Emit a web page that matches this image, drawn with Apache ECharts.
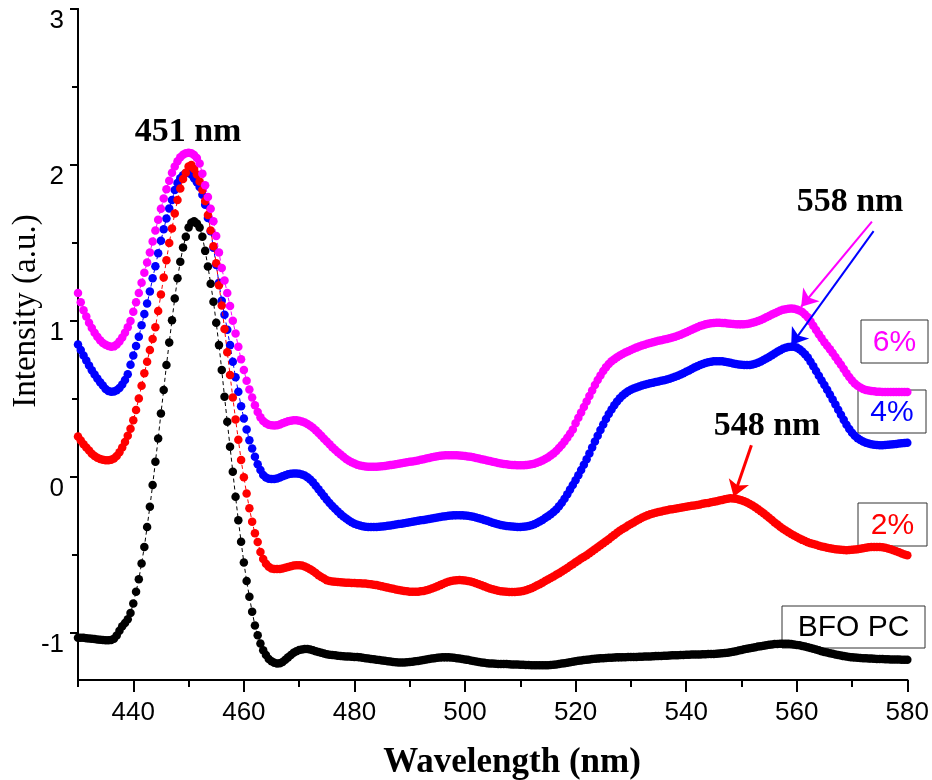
<!DOCTYPE html>
<html>
<head>
<meta charset="utf-8">
<title>PL spectra</title>
<script src="https://cdn.jsdelivr.net/npm/echarts@6/dist/echarts.min.js"></script>
<style>
  html, body { margin: 0; padding: 0; background: #fff; }
  #chart { width: 932px; height: 780px; }
</style>
</head>
<body>
<div id="chart"></div>
<script>
// Sampling grid of the spectra: 430–580 nm every 0.5 nm
const startNm = 430;
const stepNm = 0.5;
const pointCount = 301;
const wavelength = Array.from({ length: pointCount }, (_, i) => startNm + i * stepNm);

// Intensities (a.u.), one value per grid point
const bfoPC = [
  -1.03, -1.03, -1.03, -1.032, -1.034, -1.036, -1.038, -1.04, -1.042, -1.044,
  -1.045, -1.045, -1.043, -1.035, -1.015, -0.985, -0.955, -0.935, -0.91, -0.87,
  -0.81, -0.735, -0.654, -0.553, -0.447, -0.319, -0.19, -0.05, 0.098, 0.248,
  0.408, 0.558, 0.718, 0.863, 1.006, 1.145, 1.274, 1.38, 1.472, 1.54,
  1.6, 1.63, 1.64, 1.625, 1.6, 1.54, 1.45, 1.35, 1.24, 1.124,
  0.989, 0.846, 0.686, 0.515, 0.355, 0.194, 0.034, -0.126, -0.276, -0.414,
  -0.547, -0.665, -0.767, -0.863, -0.95, -1.013, -1.066, -1.11, -1.14, -1.165,
  -1.18, -1.19, -1.194, -1.192, -1.185, -1.17, -1.155, -1.14, -1.125, -1.115,
  -1.108, -1.104, -1.102, -1.102, -1.105, -1.11, -1.115, -1.12, -1.125, -1.13,
  -1.135, -1.138, -1.14, -1.142, -1.145, -1.146, -1.148, -1.149, -1.15, -1.151,
  -1.152, -1.153, -1.155, -1.157, -1.16, -1.162, -1.165, -1.167, -1.17, -1.172,
  -1.175, -1.177, -1.18, -1.182, -1.185, -1.186, -1.188, -1.188, -1.188, -1.187,
  -1.185, -1.183, -1.18, -1.178, -1.175, -1.172, -1.168, -1.165, -1.162, -1.16,
  -1.158, -1.156, -1.155, -1.155, -1.155, -1.156, -1.157, -1.16, -1.162, -1.165,
  -1.168, -1.171, -1.175, -1.178, -1.182, -1.185, -1.188, -1.19, -1.192, -1.194,
  -1.195, -1.196, -1.197, -1.197, -1.198, -1.198, -1.199, -1.2, -1.2, -1.201,
  -1.202, -1.203, -1.204, -1.204, -1.205, -1.205, -1.206, -1.206, -1.206, -1.206,
  -1.205, -1.204, -1.202, -1.2, -1.198, -1.195, -1.192, -1.189, -1.186, -1.183,
  -1.18, -1.177, -1.175, -1.172, -1.17, -1.168, -1.166, -1.164, -1.163, -1.161,
  -1.16, -1.159, -1.158, -1.157, -1.156, -1.155, -1.155, -1.154, -1.154, -1.153,
  -1.153, -1.152, -1.152, -1.151, -1.151, -1.15, -1.15, -1.149, -1.148, -1.147,
  -1.146, -1.146, -1.145, -1.144, -1.143, -1.142, -1.142, -1.141, -1.14, -1.139,
  -1.138, -1.138, -1.137, -1.137, -1.136, -1.136, -1.135, -1.135, -1.134, -1.134,
  -1.133, -1.132, -1.13, -1.129, -1.127, -1.125, -1.122, -1.119, -1.115, -1.111,
  -1.107, -1.103, -1.1, -1.096, -1.093, -1.09, -1.086, -1.083, -1.08, -1.077,
  -1.074, -1.072, -1.07, -1.069, -1.067, -1.067, -1.067, -1.068, -1.07, -1.072,
  -1.075, -1.078, -1.082, -1.086, -1.09, -1.095, -1.1, -1.105, -1.11, -1.115,
  -1.12, -1.124, -1.128, -1.132, -1.136, -1.14, -1.143, -1.147, -1.15, -1.152,
  -1.155, -1.156, -1.158, -1.159, -1.16, -1.161, -1.162, -1.163, -1.164, -1.165,
  -1.166, -1.166, -1.167, -1.167, -1.168, -1.168, -1.169, -1.169, -1.17, -1.17,
  -1.17
];

const bfo2 = [
  0.26, 0.235, 0.21, 0.19, 0.17, 0.15, 0.135, 0.125, 0.117, 0.112,
  0.109, 0.109, 0.112, 0.12, 0.135, 0.16, 0.19, 0.225, 0.265, 0.31,
  0.365, 0.43, 0.504, 0.585, 0.665, 0.74, 0.815, 0.885, 0.96, 1.065,
  1.17, 1.28, 1.39, 1.5, 1.594, 1.69, 1.776, 1.85, 1.91, 1.95,
  1.99, 2.0, 1.975, 1.94, 1.895, 1.84, 1.77, 1.68, 1.58, 1.48,
  1.37, 1.23, 1.1, 0.95, 0.8, 0.655, 0.51, 0.37, 0.24, 0.11,
  0.0, -0.105, -0.2, -0.286, -0.36, -0.415, -0.48, -0.525, -0.555, -0.575,
  -0.585, -0.588, -0.589, -0.588, -0.585, -0.581, -0.576, -0.571, -0.567, -0.565,
  -0.565, -0.567, -0.572, -0.58, -0.59, -0.602, -0.615, -0.628, -0.64, -0.65,
  -0.66, -0.665, -0.668, -0.67, -0.672, -0.674, -0.675, -0.676, -0.677, -0.678,
  -0.679, -0.68, -0.68, -0.681, -0.682, -0.684, -0.686, -0.689, -0.692, -0.696,
  -0.7, -0.704, -0.708, -0.712, -0.716, -0.72, -0.724, -0.727, -0.73, -0.732,
  -0.734, -0.735, -0.735, -0.734, -0.732, -0.729, -0.725, -0.72, -0.714, -0.707,
  -0.7, -0.692, -0.684, -0.677, -0.671, -0.666, -0.662, -0.66, -0.659, -0.66,
  -0.662, -0.665, -0.669, -0.674, -0.68, -0.686, -0.693, -0.7, -0.707, -0.713,
  -0.719, -0.724, -0.728, -0.731, -0.733, -0.735, -0.736, -0.736, -0.736, -0.735,
  -0.733, -0.73, -0.725, -0.719, -0.712, -0.704, -0.695, -0.686, -0.676, -0.666,
  -0.656, -0.646, -0.636, -0.626, -0.616, -0.605, -0.594, -0.582, -0.57, -0.558,
  -0.545, -0.534, -0.522, -0.511, -0.5, -0.488, -0.475, -0.462, -0.45, -0.437,
  -0.424, -0.411, -0.398, -0.384, -0.37, -0.357, -0.344, -0.333, -0.322, -0.31,
  -0.3, -0.29, -0.28, -0.27, -0.26, -0.252, -0.245, -0.238, -0.233, -0.228,
  -0.224, -0.22, -0.216, -0.212, -0.208, -0.205, -0.202, -0.199, -0.196, -0.193,
  -0.19, -0.187, -0.184, -0.181, -0.178, -0.175, -0.171, -0.168, -0.165, -0.161,
  -0.158, -0.154, -0.15, -0.146, -0.142, -0.139, -0.136, -0.137, -0.139, -0.143,
  -0.148, -0.155, -0.163, -0.172, -0.182, -0.193, -0.205, -0.218, -0.232, -0.246,
  -0.26, -0.275, -0.29, -0.304, -0.318, -0.33, -0.342, -0.353, -0.364, -0.374,
  -0.384, -0.393, -0.402, -0.41, -0.417, -0.423, -0.429, -0.434, -0.439, -0.444,
  -0.448, -0.452, -0.456, -0.459, -0.462, -0.464, -0.466, -0.467, -0.468, -0.467,
  -0.466, -0.464, -0.462, -0.459, -0.456, -0.453, -0.45, -0.448, -0.447, -0.447,
  -0.447, -0.449, -0.452, -0.457, -0.462, -0.468, -0.475, -0.482, -0.489, -0.495,
  -0.5
];

const bfo4 = [
  0.85, 0.815, 0.78, 0.747, 0.715, 0.685, 0.657, 0.632, 0.608, 0.587,
  0.565, 0.552, 0.547, 0.549, 0.557, 0.572, 0.593, 0.622, 0.66, 0.72,
  0.78, 0.84, 0.9, 0.974, 1.045, 1.113, 1.19, 1.274, 1.352, 1.434,
  1.515, 1.588, 1.658, 1.722, 1.776, 1.84, 1.885, 1.915, 1.935, 1.948,
  1.955, 1.94, 1.915, 1.89, 1.86, 1.81, 1.745, 1.66, 1.575, 1.47,
  1.36, 1.245, 1.13, 1.04, 0.945, 0.846, 0.74, 0.64, 0.547, 0.455,
  0.376, 0.306, 0.237, 0.184, 0.13, 0.083, 0.045, 0.013, -0.003, -0.01,
  -0.012, -0.012, -0.008, -0.002, 0.005, 0.012, 0.018, 0.022, 0.024, 0.024,
  0.022, 0.017, 0.01, 0.0, -0.015, -0.033, -0.055, -0.077, -0.1, -0.122,
  -0.145, -0.165, -0.185, -0.203, -0.22, -0.237, -0.252, -0.265, -0.278, -0.289,
  -0.298, -0.305, -0.31, -0.315, -0.318, -0.319, -0.32, -0.32, -0.319, -0.318,
  -0.316, -0.314, -0.312, -0.31, -0.307, -0.304, -0.301, -0.298, -0.295, -0.292,
  -0.289, -0.286, -0.283, -0.28, -0.277, -0.274, -0.271, -0.268, -0.265, -0.262,
  -0.259, -0.256, -0.253, -0.25, -0.248, -0.246, -0.245, -0.244, -0.244, -0.245,
  -0.246, -0.248, -0.251, -0.254, -0.258, -0.263, -0.268, -0.274, -0.28, -0.286,
  -0.292, -0.297, -0.302, -0.306, -0.31, -0.313, -0.315, -0.317, -0.318, -0.319,
  -0.319, -0.318, -0.316, -0.313, -0.308, -0.302, -0.294, -0.285, -0.274, -0.262,
  -0.25, -0.238, -0.224, -0.207, -0.187, -0.164, -0.138, -0.11, -0.08, -0.05,
  -0.02, 0.012, 0.045, 0.08, 0.115, 0.152, 0.19, 0.228, 0.265, 0.302,
  0.338, 0.372, 0.404, 0.434, 0.46, 0.484, 0.505, 0.523, 0.538, 0.55,
  0.56, 0.568, 0.575, 0.581, 0.587, 0.592, 0.597, 0.601, 0.605, 0.609,
  0.613, 0.617, 0.621, 0.626, 0.631, 0.637, 0.643, 0.65, 0.658, 0.666,
  0.675, 0.684, 0.693, 0.702, 0.71, 0.718, 0.725, 0.731, 0.736, 0.74,
  0.742, 0.743, 0.743, 0.742, 0.74, 0.737, 0.733, 0.729, 0.725, 0.722,
  0.72, 0.718, 0.718, 0.719, 0.722, 0.727, 0.733, 0.741, 0.75, 0.76,
  0.77, 0.781, 0.792, 0.803, 0.813, 0.822, 0.829, 0.834, 0.836, 0.835,
  0.83, 0.82, 0.805, 0.787, 0.767, 0.74, 0.71, 0.68, 0.65, 0.62,
  0.59, 0.56, 0.53, 0.498, 0.465, 0.432, 0.4, 0.367, 0.335, 0.308,
  0.285, 0.266, 0.25, 0.238, 0.228, 0.22, 0.215, 0.211, 0.208, 0.206,
  0.205, 0.205, 0.206, 0.207, 0.209, 0.211, 0.213, 0.215, 0.217, 0.219,
  0.22
];

const bfo6 = [
  1.18, 1.12, 1.07, 1.03, 0.99, 0.955, 0.925, 0.9, 0.877, 0.86,
  0.848, 0.84, 0.836, 0.838, 0.85, 0.87, 0.895, 0.925, 0.96, 1.0,
  1.06, 1.12, 1.18, 1.245, 1.31, 1.375, 1.44, 1.51, 1.58, 1.65,
  1.72, 1.785, 1.845, 1.9, 1.95, 1.99, 2.025, 2.05, 2.066, 2.075,
  2.078, 2.075, 2.065, 2.045, 2.01, 1.945, 1.87, 1.795, 1.72, 1.64,
  1.545, 1.44, 1.34, 1.26, 1.18, 1.096, 1.002, 0.921, 0.835, 0.755,
  0.686, 0.617, 0.562, 0.51, 0.46, 0.418, 0.383, 0.36, 0.345, 0.336,
  0.332, 0.331, 0.333, 0.338, 0.345, 0.352, 0.358, 0.362, 0.365, 0.365,
  0.362, 0.357, 0.35, 0.341, 0.33, 0.316, 0.3, 0.283, 0.265, 0.246,
  0.228, 0.21, 0.192, 0.176, 0.16, 0.145, 0.13, 0.117, 0.105, 0.095,
  0.087, 0.08, 0.075, 0.071, 0.068, 0.067, 0.066, 0.066, 0.067, 0.068,
  0.07, 0.072, 0.074, 0.077, 0.08, 0.083, 0.086, 0.089, 0.092, 0.095,
  0.098, 0.101, 0.104, 0.107, 0.111, 0.115, 0.119, 0.123, 0.127, 0.131,
  0.134, 0.137, 0.139, 0.14, 0.141, 0.141, 0.141, 0.14, 0.139, 0.137,
  0.135, 0.133, 0.13, 0.127, 0.123, 0.119, 0.115, 0.111, 0.107, 0.103,
  0.099, 0.095, 0.091, 0.088, 0.085, 0.082, 0.08, 0.078, 0.077, 0.076,
  0.076, 0.076, 0.077, 0.079, 0.082, 0.086, 0.092, 0.099, 0.107, 0.116,
  0.126, 0.138, 0.152, 0.168, 0.186, 0.206, 0.228, 0.252, 0.278, 0.306,
  0.345, 0.38, 0.415, 0.45, 0.485, 0.52, 0.555, 0.59, 0.622, 0.652,
  0.68, 0.705, 0.725, 0.742, 0.756, 0.768, 0.779, 0.789, 0.798, 0.807,
  0.815, 0.823, 0.83, 0.837, 0.843, 0.849, 0.855, 0.86, 0.865, 0.87,
  0.874, 0.878, 0.882, 0.886, 0.89, 0.895, 0.9, 0.906, 0.913, 0.921,
  0.929, 0.937, 0.945, 0.953, 0.961, 0.968, 0.974, 0.979, 0.983, 0.986,
  0.988, 0.989, 0.989, 0.988, 0.987, 0.985, 0.983, 0.981, 0.98, 0.979,
  0.979, 0.98, 0.982, 0.985, 0.989, 0.994, 1.0, 1.007, 1.015, 1.024,
  1.033, 1.042, 1.051, 1.059, 1.066, 1.072, 1.076, 1.079, 1.08, 1.079,
  1.075, 1.068, 1.058, 1.043, 1.025, 0.998, 0.97, 0.943, 0.915, 0.89,
  0.865, 0.842, 0.82, 0.795, 0.77, 0.745, 0.72, 0.693, 0.665, 0.642,
  0.62, 0.6, 0.585, 0.574, 0.565, 0.559, 0.555, 0.552, 0.55, 0.548,
  0.547, 0.546, 0.545, 0.545, 0.545, 0.545, 0.545, 0.545, 0.545, 0.545,
  0.545
];

// Axis ticks
const xMajorTicks = [440, 460, 480, 500, 520, 540, 560, 580];
const xMinorTicks = [430, 450, 470, 490, 510, 530, 550, 570];
const yMajorTicks = [-1, 0, 1, 2, 3];
const yMinorTicks = [-0.5, 0.5, 1.5, 2.5];

// Peak-marker arrows, [fromNm, fromValue, toNm, toValue]
const arrowMagenta = [573.6, 1.637, 560.8, 1.092];
const arrowBlue = [573.9, 1.577, 559.0, 0.846];
const arrowRed = [551.8, 0.205, 548.6, -0.126];

const chart = echarts.init(document.getElementById('chart'), null, { renderer: 'canvas' });

const pairs = (vals) => wavelength.map((w, i) => [w, vals[i]]);

function spectrum(name, vals, color, z) {
  return {
    type: 'line',
    name: name,
    data: pairs(vals),
    xAxisIndex: 0,
    yAxisIndex: 0,
    symbol: 'circle',
    symbolSize: 8.5,
    showSymbol: true,
    showAllSymbol: true,
    itemStyle: { color: color, borderWidth: 0, opacity: 1 },
    lineStyle: { color: color, width: 1, type: [4, 3] },
    emphasis: { disabled: true },
    silent: true,
    z: z
  };
}

const arrowLine = (a, color, width) => ({
  coords: [[a[0], a[1]], [a[2], a[3]]],
  lineStyle: { color: color, width: width, opacity: 1 }
});

const tickFont = { fontFamily: 'Liberation Sans', fontSize: 26, color: '#000' };
const axisLineStyle = { color: '#000', width: 2 };

function labelBox(text, color, left, top, width, height) {
  return {
    type: 'group',
    z: 100,
    children: [
      {
        type: 'rect',
        shape: { x: left, y: top, width: width, height: height },
        style: { fill: '#fff', stroke: '#333', lineWidth: 1 }
      },
      {
        type: 'text',
        x: left + width / 2,
        y: top + height / 2 + 1,
        style: {
          text: text, fill: color,
          font: '30px "Liberation Sans"',
          align: 'center', verticalAlign: 'middle'
        }
      }
    ]
  };
}

function boldNote(text, x, y) {
  return {
    type: 'text', x: x, y: y, z: 100,
    style: {
      text: text, fill: '#000',
      font: 'bold 34px "Liberation Serif"',
      align: 'center', verticalAlign: 'middle'
    }
  };
}

chart.setOption({
  animation: false,
  backgroundColor: '#fff',
  grid: { left: 78, right: 24, top: 9, bottom: 100, containLabel: false },
  xAxis: [
    {
      type: 'value', min: 430, max: 580, position: 'bottom',
      axisLine: { show: true, onZero: false, lineStyle: axisLineStyle },
      axisTick: { show: true, customValues: xMajorTicks, length: 12, inside: false, lineStyle: axisLineStyle },
      axisLabel: { show: true, customValues: xMajorTicks, margin: 20, ...tickFont },
      splitLine: { show: false }
    },
    {
      // minor ticks; shares the bottom edge with the main x axis
      type: 'value', min: 430, max: 580, position: 'bottom',
      axisLine: { show: true, onZero: false, lineStyle: axisLineStyle },
      axisTick: { show: true, customValues: xMinorTicks, length: 7, inside: false, lineStyle: axisLineStyle },
      axisLabel: { show: false },
      splitLine: { show: false }
    }
  ],
  yAxis: [
    {
      type: 'value', min: -1.3, max: 3, position: 'left',
      axisLine: { show: true, onZero: false, lineStyle: axisLineStyle },
      axisTick: { show: true, customValues: yMajorTicks, length: 8, inside: false, lineStyle: axisLineStyle },
      axisLabel: { show: true, customValues: yMajorTicks, margin: 14, verticalAlign: 'top', lineHeight: 24, ...tickFont },
      splitLine: { show: false }
    },
    {
      // minor ticks; shares the left edge with the main y axis
      type: 'value', min: -1.3, max: 3, position: 'left',
      axisLine: { show: true, onZero: false, lineStyle: axisLineStyle },
      axisTick: { show: true, customValues: yMinorTicks, length: 6, inside: false, lineStyle: axisLineStyle },
      axisLabel: { show: false },
      splitLine: { show: false }
    }
  ],
  series: [
    spectrum('BFO PC', bfoPC, '#000000', 2),
    spectrum('2%', bfo2, '#ff0000', 4),
    spectrum('4%', bfo4, '#0000ff', 3),
    spectrum('6%', bfo6, '#ff00ff', 5),
    {
      type: 'lines',
      coordinateSystem: 'cartesian2d',
      xAxisIndex: 0,
      yAxisIndex: 0,
      symbol: ['none', 'arrow'],
      symbolSize: [0, 16],
      silent: true,
      z: 20,
      lineStyle: { opacity: 1 },
      data: [
        arrowLine(arrowMagenta, '#ff00ff', 2),
        arrowLine(arrowBlue, '#0000ff', 2),
        arrowLine(arrowRed, '#ff0000', 3)
      ]
    }
  ],
  graphic: [
    boldNote('451 nm', 188, 132),
    boldNote('558 nm', 850, 202),
    boldNote('548 nm', 767, 426),
    labelBox('6%', '#ff00ff', 861, 320, 67, 43),
    labelBox('4%', '#0000ff', 858, 390, 68, 43),
    labelBox('2%', '#ff0000', 858, 503, 69, 43),
    labelBox('BFO PC', '#000000', 782, 606, 143, 42),
    {
      type: 'text', x: 512, y: 763, z: 100,
      style: {
        text: 'Wavelength (nm)', fill: '#000',
        font: 'bold 35px "Liberation Serif"',
        align: 'center', verticalAlign: 'middle'
      }
    },
    {
      type: 'text', x: 26, y: 311, rotation: Math.PI / 2, z: 100,
      style: {
        text: 'Intensity (a.u.)', fill: '#000',
        font: '33px "Liberation Serif"',
        align: 'center', verticalAlign: 'middle'
      }
    }
  ]
});
</script>
</body>
</html>
